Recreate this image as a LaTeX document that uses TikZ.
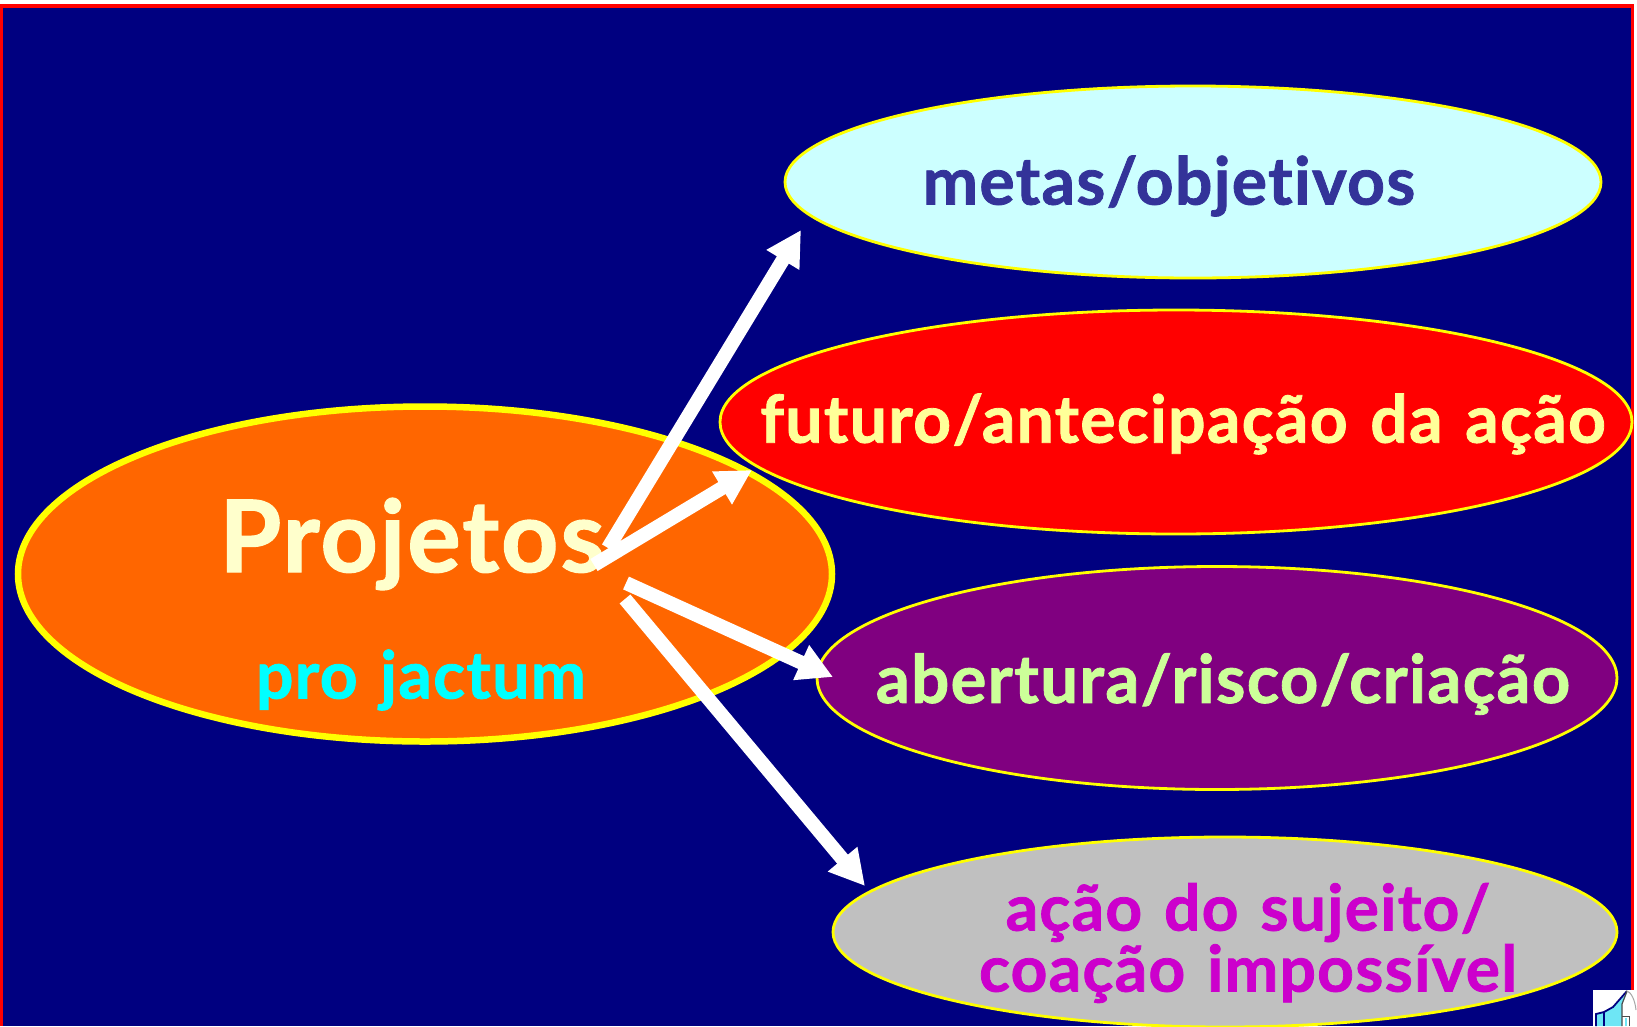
\documentclass[tikz,border=0pt]{standalone}
\usepackage{fontspec}
\setmainfont{Lato}[BoldFont={Lato Bold},BoldFeatures={FakeBold=1.2,LetterSpace=2,WordSpace=1.3,Ligatures=NoCommon}]
\usetikzlibrary{shapes.geometric,arrows.meta}
\definecolor{bgnavy}{RGB}{0,0,128}
\definecolor{orangefill}{RGB}{255,102,0}
\definecolor{paleyellow}{RGB}{255,255,204}
\definecolor{softyellow}{RGB}{255,255,153}
\definecolor{palegreen}{RGB}{204,255,153}
\definecolor{palecyan}{RGB}{204,255,255}
\definecolor{indigotext}{RGB}{51,51,153}
\definecolor{magentatext}{RGB}{204,0,204}
\definecolor{purplefill}{RGB}{128,0,128}
\definecolor{greyfill}{RGB}{192,192,192}
\definecolor{brightcyan}{RGB}{0,255,255}
\definecolor{iconcyan}{RGB}{110,230,245}
\definecolor{brightyellow}{RGB}{255,255,0}
\definecolor{brightred}{RGB}{255,0,0}
\tikzset{
  oval/.style={ellipse,draw=brightyellow,line width=2.8pt,inner sep=0pt},
  lbl/.style={inner sep=0pt,align=center},
  bigarrow/.style={draw=white,line width=14pt,-{Triangle[length=35pt,width=36pt,fill=white]}},
}
\begin{document}
\begin{tikzpicture}[x=1pt,y=-1pt]
\useasboundingbox (0,0) rectangle (1637,1026);
\fill[white] (0,0) rectangle (1637,1026);
\fill[brightred] (0,4) rectangle (1634,1026);
\fill[bgnavy] (3,8) rectangle (1631,1026);
\begin{scope}
\clip (0,0) rectangle (1637,1026);
\node[oval,fill=palecyan,minimum width=816pt,minimum height=192pt] (goal) at (1193,182) {};
\node[oval,fill=brightred,minimum width=912pt,minimum height=224pt] (future) at (1176,422) {};
\node[oval,fill=purplefill,minimum width=800pt,minimum height=223pt] (risk) at (1217,678) {};
\node[oval,fill=greyfill,minimum width=784pt,minimum height=190pt] (subject) at (1225,932) {};
\node[oval,line width=6.5pt,fill=orangefill,minimum width=814pt,minimum height=335pt] (proj) at (425,574) {};
\end{scope}
\node[lbl,text=indigotext,font=\bfseries\fontsize{66}{72}\selectfont] (goalt) at (1169,186) {metas/objetivos};
\node[lbl,text=softyellow,font=\bfseries\fontsize{66}{72}\selectfont] (futuret) at (1183,424) {futuro/antecipação da ação};
\node[lbl,text=palegreen,font=\bfseries\fontsize{67}{72}\selectfont] (riskt) at (1223,684) {abertura/risco/criação};
\node[lbl,text=magentatext,font=\bfseries\fontsize{64}{61}\selectfont] (subjectt) at (1248,943) {ação do sujeito/\\coação impossível};
\node[lbl,text=paleyellow,font=\bfseries\fontsize{100}{110}\selectfont] (projt) at (412,544) {Projetos};
\node[lbl,text=brightcyan,font=\bfseries\fontsize{66}{72}\selectfont] (jact) at (421,680) {pro jactum};
\coordinate (s1) at (608,548);
\coordinate (s2) at (594,565);
\coordinate (s3) at (626,583);
\coordinate (s4) at (625,599);
\coordinate (e1) at (801,230);
\coordinate (e2) at (752,470);
\coordinate (e3) at (833,677);
\coordinate (e4) at (865,886);
\draw[bigarrow] (s1) -- (e1);
\draw[bigarrow] (s2) -- (e2);
\draw[bigarrow] (s3) -- (e3);
\draw[bigarrow] (s4) -- (e4);
% icon
\fill[white] (1593,990) rectangle (1637,1026);
\fill[iconcyan] (1604,1026) -- (1604,1012) -- (1613,1007) -- (1627,993) -- (1622,1004) -- (1622,1026) -- cycle;
\fill[iconcyan] (1596,1026) -- (1596,1014) -- (1604,1012) -- (1604,1026) -- cycle;
\draw[bgnavy,line width=1.8pt] (1596,1026) -- (1596,1014) -- (1604,1012) -- (1613,1007) -- (1627,991);
\draw[bgnavy,line width=1.4pt] (1604,1012) -- (1604,1026);
\draw[black!70,line width=1.2pt] (1627,991) -- (1622,1004) -- (1622,1026);
\draw[black!70,line width=1pt] (1622,1016) -- (1629,1016) -- (1629,1026);
\fill[iconcyan] (1624.5,1018) rectangle (1627,1026);
\draw[gray!70,line width=1pt] (1627,991) .. controls (1631,992) and (1635,1000) .. (1636,1010);
\end{tikzpicture}
\end{document}
